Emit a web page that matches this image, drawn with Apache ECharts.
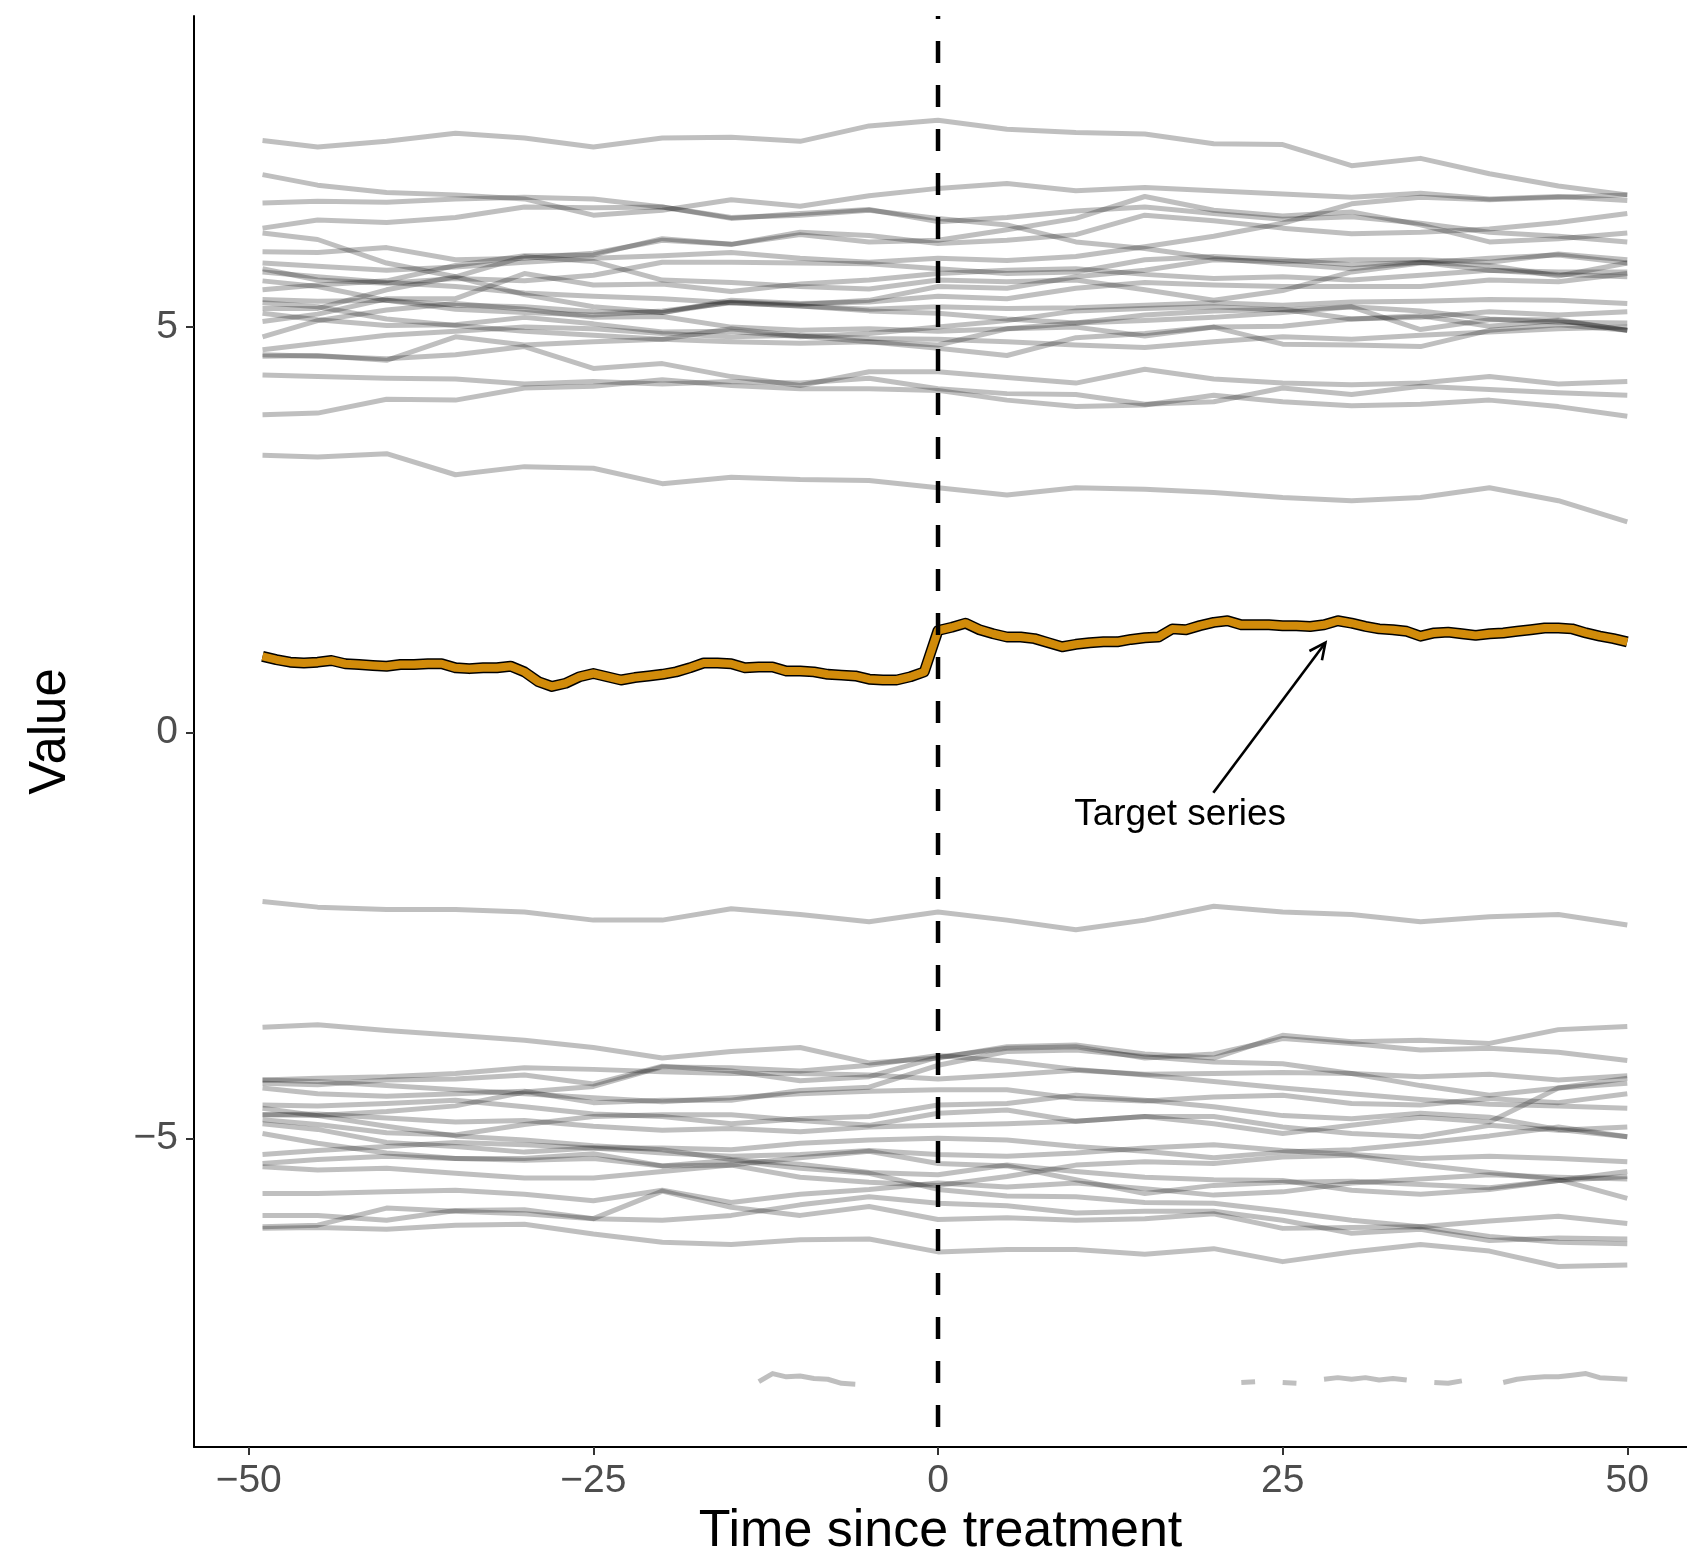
<!DOCTYPE html>
<html><head><meta charset="utf-8">
<script src="https://cdn.jsdelivr.net/npm/echarts@6/dist/echarts.min.js"></script>
<style>html,body{margin:0;padding:0;background:#fff}#c{width:1687px;height:1548px}</style>
</head><body><div id="c"></div>
<script>
// ---- data ----
const timeGrid = [-49,-45,-40,-35,-30,-25,-20,-15,-10,-5,0,5,10,15,20,25,30,35,40,45,50];

const upperLines = [
  [7.30,7.22,7.29,7.39,7.33,7.22,7.33,7.34,7.29,7.48,7.55,7.44,7.40,7.38,7.26,7.25,6.99,7.08,6.89,6.74,6.63],
  [6.88,6.75,6.66,6.63,6.58,6.38,6.44,6.57,6.49,6.62,6.71,6.77,6.68,6.72,6.68,6.64,6.60,6.65,6.58,6.61,6.56],
  [6.53,6.55,6.54,6.58,6.60,6.58,6.48,6.35,6.38,6.44,6.34,6.26,6.05,5.97,5.85,5.78,5.72,5.80,5.76,5.63,5.79],
  [6.22,6.32,6.29,6.35,6.48,6.47,6.48,6.34,6.40,6.45,6.30,6.35,6.43,6.48,6.40,6.33,6.36,6.28,6.17,6.12,6.05],
  [6.16,6.08,5.79,5.62,5.40,5.25,5.18,5.31,5.28,5.33,5.50,5.48,5.62,5.70,5.83,5.81,5.83,5.83,5.80,5.90,5.83],
  [5.93,5.92,5.98,5.83,5.85,5.91,6.07,6.02,6.17,6.13,6.03,6.07,6.14,6.38,6.31,6.22,6.15,6.17,6.21,6.29,6.40],
  [5.79,5.75,5.70,5.74,5.80,5.85,5.88,5.92,5.85,5.80,5.85,5.82,5.87,5.99,6.12,6.28,6.52,6.60,6.57,6.60,6.63],
  [5.72,5.58,5.54,5.60,5.57,5.64,5.80,5.80,5.79,5.78,5.72,5.66,5.68,5.83,5.87,5.83,5.77,5.80,5.70,5.65,5.62],
  [5.46,5.52,5.57,5.76,5.88,5.89,6.09,6.02,6.14,6.05,6.07,6.20,6.34,6.61,6.44,6.37,6.42,6.26,6.05,6.09,6.16],
  [5.68,5.62,5.55,5.50,5.42,5.38,5.35,5.30,5.26,5.22,5.25,5.23,5.24,5.27,5.30,5.27,5.31,5.32,5.34,5.33,5.29],
  [5.23,5.23,5.46,5.62,5.87,5.81,5.58,5.55,5.50,5.47,5.58,5.56,5.58,5.46,5.33,5.45,5.68,5.79,5.85,5.89,5.79],
  [5.57,5.50,5.33,5.22,5.18,5.15,5.20,5.30,5.26,5.20,5.17,5.10,5.05,5.15,5.20,5.22,5.10,5.12,5.19,5.15,5.19],
  [5.34,5.32,5.33,5.27,5.25,5.19,5.18,5.33,5.29,5.31,5.38,5.35,5.48,5.55,5.52,5.50,5.50,5.50,5.58,5.56,5.66],
  [5.07,5.16,5.35,5.35,5.66,5.52,5.53,5.44,5.53,5.58,5.66,5.70,5.72,5.65,5.60,5.62,5.58,5.64,5.70,5.68,5.68],
  [4.88,5.08,5.21,5.29,5.22,5.12,5.13,5.00,4.96,4.98,4.95,4.98,5.05,5.08,5.12,5.18,5.25,5.20,5.10,5.06,5.05],
  [5.17,5.09,5.02,5.03,5.12,5.04,4.94,4.95,4.88,4.92,5.00,5.08,5.20,5.23,5.25,5.21,5.25,4.97,5.09,5.09,4.96],
  [5.30,5.25,5.10,5.02,4.95,4.90,4.85,4.82,4.80,4.82,4.78,4.98,5.00,4.89,5.00,5.01,5.10,5.14,5.01,5.08,4.96],
  [4.64,4.65,4.59,4.88,4.78,4.82,4.85,4.98,4.89,4.82,4.74,4.65,4.87,4.92,5.00,4.79,4.78,4.76,4.96,5.03,4.96],
  [4.66,4.64,4.61,4.66,4.76,4.49,4.55,4.39,4.28,4.45,4.45,4.38,4.31,4.48,4.36,4.31,4.29,4.31,4.39,4.30,4.33],
  [4.72,4.80,4.90,4.95,5.00,4.98,4.92,4.88,4.90,4.86,4.85,4.82,4.78,4.75,4.82,4.88,4.85,4.90,4.94,4.98,5.00],
  [4.41,4.39,4.37,4.36,4.30,4.33,4.30,4.33,4.31,4.37,4.24,4.18,4.17,4.05,4.08,4.25,4.17,4.27,4.23,4.19,4.16],
  [3.92,3.94,4.11,4.10,4.25,4.27,4.35,4.28,4.24,4.24,4.22,4.10,4.02,4.04,4.16,4.08,4.03,4.05,4.10,4.02,3.90],
  [3.42,3.40,3.44,3.18,3.28,3.26,3.07,3.15,3.12,3.11,3.02,2.93,3.02,3.00,2.96,2.90,2.86,2.90,3.02,2.86,2.60]
];

const middleLine = [-2.08,-2.15,-2.18,-2.18,-2.21,-2.31,-2.31,-2.17,-2.24,-2.33,-2.21,-2.31,-2.43,-2.31,-2.14,-2.21,-2.24,-2.33,-2.27,-2.24,-2.37];

const lowerLines = [
  [-3.63,-3.60,-3.67,-3.73,-3.79,-3.88,-4.01,-3.93,-3.88,-4.07,-4.01,-3.87,-3.85,-3.96,-4.01,-3.73,-3.81,-3.79,-3.83,-3.66,-3.62],
  [-4.28,-4.26,-4.24,-4.20,-4.13,-4.15,-4.18,-4.20,-4.20,-4.22,-4.27,-4.22,-4.16,-4.21,-4.20,-4.19,-4.20,-4.24,-4.21,-4.28,-4.23],
  [-4.32,-4.34,-4.28,-4.27,-4.22,-4.33,-4.11,-4.17,-4.29,-4.24,-4.00,-3.89,-3.87,-4.01,-3.96,-3.77,-3.83,-3.91,-3.89,-3.94,-4.04],
  [-4.38,-4.45,-4.48,-4.45,-4.42,-4.56,-4.53,-4.53,-4.41,-4.37,-4.10,-3.93,-3.91,-3.99,-4.06,-4.08,-4.20,-4.35,-4.47,-4.38,-4.32],
  [-4.59,-4.60,-4.57,-4.53,-4.61,-4.70,-4.73,-4.82,-4.76,-4.73,-4.59,-4.57,-4.47,-4.53,-4.61,-4.72,-4.76,-4.69,-4.74,-4.89,-4.98],
  [-4.63,-4.72,-4.85,-4.97,-5.02,-5.09,-5.14,-5.26,-5.32,-5.42,-5.45,-5.33,-5.41,-5.48,-5.51,-5.52,-5.64,-5.69,-5.63,-5.52,-5.47],
  [-4.94,-5.06,-5.18,-5.25,-5.25,-5.19,-5.34,-5.27,-5.37,-5.43,-5.63,-5.71,-5.72,-5.79,-5.80,-5.90,-6.01,-6.09,-6.02,-5.96,-6.05],
  [-4.71,-4.72,-4.67,-4.60,-4.43,-4.36,-4.12,-4.13,-4.17,-4.10,-3.98,-4.05,-4.15,-4.22,-4.30,-4.38,-4.45,-4.52,-4.58,-4.60,-4.63],
  [-4.77,-4.83,-4.93,-4.96,-4.83,-4.73,-4.71,-4.71,-4.78,-4.84,-4.69,-4.65,-4.79,-4.73,-4.73,-4.86,-4.94,-4.98,-4.84,-4.90,-4.86],
  [-4.82,-4.89,-5.05,-5.10,-5.17,-5.12,-5.12,-5.14,-5.06,-5.02,-5.00,-5.02,-5.10,-5.16,-5.24,-5.17,-5.14,-5.06,-4.97,-4.86,-4.98],
  [-5.31,-5.26,-5.22,-5.25,-5.27,-5.25,-5.34,-5.33,-5.48,-5.54,-5.58,-5.47,-5.33,-5.29,-5.31,-5.23,-5.21,-5.33,-5.42,-5.51,-5.74],
  [-5.35,-5.39,-5.37,-5.43,-5.49,-5.49,-5.41,-5.33,-5.24,-5.16,-5.31,-5.34,-5.51,-5.68,-5.58,-5.54,-5.53,-5.57,-5.61,-5.52,-5.41],
  [-5.68,-5.68,-5.66,-5.64,-5.69,-5.77,-5.64,-5.79,-5.69,-5.63,-5.55,-5.60,-5.55,-5.62,-5.70,-5.66,-5.55,-5.50,-5.45,-5.48,-5.50],
  [-5.95,-5.95,-6.01,-5.89,-5.88,-5.99,-5.65,-5.85,-5.95,-5.84,-6.00,-5.98,-6.01,-5.99,-5.93,-6.11,-6.10,-6.09,-6.21,-6.28,-6.30],
  [-6.09,-6.07,-5.86,-5.90,-5.93,-5.99,-6.01,-5.95,-5.82,-5.72,-5.80,-5.83,-5.92,-5.90,-5.90,-6.01,-6.17,-6.12,-6.26,-6.23,-6.24],
  [-6.11,-6.10,-6.12,-6.07,-6.06,-6.18,-6.28,-6.31,-6.25,-6.24,-6.40,-6.37,-6.37,-6.43,-6.36,-6.52,-6.40,-6.31,-6.39,-6.58,-6.56],
  [-4.28,-4.30,-4.35,-4.40,-4.45,-4.50,-4.55,-4.50,-4.45,-4.42,-4.40,-4.40,-4.51,-4.54,-4.49,-4.47,-4.57,-4.59,-4.51,-4.56,-4.45],
  [-4.71,-4.70,-4.75,-4.80,-4.78,-4.85,-4.90,-4.88,-4.92,-4.86,-4.84,-4.82,-4.79,-4.73,-4.82,-4.94,-4.84,-4.74,-4.80,-4.38,-4.26],
  [-5.20,-5.15,-5.10,-5.05,-5.08,-5.12,-5.18,-5.22,-5.20,-5.15,-5.20,-5.22,-5.18,-5.12,-5.08,-5.15,-5.20,-5.25,-5.22,-5.25,-5.29]
];

const gappedTime  = [-13,-12,-11,-10,-9,-8,-7,-6,-5,22,23,24,25,26,27,28,29,30,31,32,33,34,35,36,37,38,39,41,42,43,44,45,46,47,48,49,50];
const gappedValue = [-8.00,-7.90,-7.94,-7.93,-7.96,-7.97,-8.02,-8.03,null,
  -8.01,-8.00,null,-8.01,-8.02,null,-7.97,-7.95,-7.97,-7.95,-7.98,-7.96,-7.98,null,-8.01,-8.02,-7.99,null,
  -8.01,-7.97,-7.95,-7.94,-7.94,-7.92,-7.90,-7.95,-7.96,-7.97];

const targetTime = Array.from({length: 100}, (_, i) => i - 49);
const targetValues = [
  0.94,0.90,0.87,0.86,0.87,0.89,0.85,0.84,0.83,0.82,
  0.84,0.84,0.85,0.85,0.80,0.79,0.80,0.80,0.82,0.75,
  0.63,0.57,0.61,0.69,0.73,0.69,0.65,0.68,0.70,0.72,
  0.75,0.80,0.86,0.86,0.85,0.80,0.81,0.81,0.76,0.76,
  0.75,0.72,0.71,0.70,0.66,0.65,0.65,0.69,0.75,
  1.26,1.30,1.35,1.27,1.22,1.18,1.18,1.16,1.11,1.06,
  1.09,1.11,1.12,1.12,1.15,1.17,1.18,1.28,1.27,1.32,
  1.36,1.38,1.33,1.33,1.33,1.32,1.32,1.31,1.33,1.38,
  1.35,1.31,1.28,1.27,1.25,1.19,1.23,1.24,1.22,1.20,
  1.22,1.23,1.25,1.27,1.29,1.29,1.28,1.23,1.19,1.16,
  1.12
];

const treatmentTime = 0;
const arrowSegment = [19.97, -0.74, 28.1, 1.11];
const annotationText = 'Target series';
const annotationPos = [17.56, -1.01];

const xTicks = [-50, -25, 0, 25, 50];
const yTicks = [-5, 0, 5];
const xRange = [-53.97, 54.33];
const yRange = [-8.805, 8.835];

// ---- chart ----
const FONT = '"Liberation Sans", Arial, Helvetica, sans-serif';
const GREY = 'rgba(0,0,0,0.25)';
const ORANGE = '#D18B0A';
const fmt = v => (v < 0 ? '\u2212' + Math.abs(v) : String(v));

const series = [];
[...upperLines, middleLine, ...lowerLines].forEach(arr => {
  series.push({
    type: 'line', silent: true, symbol: 'none', z: 2,
    data: timeGrid.map((t, i) => [t, arr[i]]),
    lineStyle: { color: GREY, width: 5, join: 'round' }
  });
});
series.push({
  type: 'line', silent: true, symbol: 'none', z: 2, connectNulls: false,
  data: gappedTime.map((t, i) => [t, gappedValue[i] === null ? '-' : gappedValue[i]]),
  lineStyle: { color: GREY, width: 5, join: 'round' }
});
series.push({
  type: 'line', silent: true, symbol: 'none', z: 3,
  data: targetTime.map((t, i) => [t, targetValues[i]]),
  lineStyle: { color: '#000', width: 11, join: 'round' }
});
series.push({
  type: 'line', silent: true, symbol: 'none', z: 4,
  data: targetTime.map((t, i) => [t, targetValues[i]]),
  lineStyle: { color: ORANGE, width: 8, join: 'round' }
});
// dashed vertical line at treatment
series.push({
  type: 'custom', silent: true, z: 6,
  data: [[treatmentTime, 0]],
  renderItem(params, api) {
    const cs = params.coordSys;
    const x = api.coord([api.value(0), 0])[0];
    return {
      type: 'line',
      shape: { x1: x, y1: cs.y, x2: x, y2: cs.y + cs.height },
      style: { stroke: '#000', lineWidth: 4.5, lineDash: [22, 22], lineDashOffset: 19 }
    };
  }
});
// arrow
series.push({
  type: 'custom', silent: true, z: 7,
  data: [arrowSegment],
  renderItem(params, api) {
    const p1 = api.coord([api.value(0), api.value(1)]);
    const p2 = api.coord([api.value(2), api.value(3)]);
    const ang = Math.atan2(p2[1] - p1[1], p2[0] - p1[0]);
    const L = 18, a = Math.PI / 7;
    const h1 = [p2[0] - L * Math.cos(ang - a), p2[1] - L * Math.sin(ang - a)];
    const h2 = [p2[0] - L * Math.cos(ang + a), p2[1] - L * Math.sin(ang + a)];
    return {
      type: 'group', children: [
        { type: 'line', shape: { x1: p1[0], y1: p1[1], x2: p2[0], y2: p2[1] }, style: { stroke: '#000', lineWidth: 2.6 } },
        { type: 'polyline', shape: { points: [h1, p2, h2] }, style: { stroke: '#000', lineWidth: 2.6, fill: null } }
      ]
    };
  }
});
// annotation text
series.push({
  type: 'custom', silent: true, z: 7,
  data: [annotationPos],
  renderItem(params, api) {
    const p = api.coord([api.value(0), api.value(1)]);
    return {
      type: 'text', x: p[0], y: p[1],
      style: { text: annotationText, fill: '#000', fontSize: 37, fontFamily: FONT, align: 'center', verticalAlign: 'middle' }
    };
  }
});

const chart = echarts.init(document.getElementById('c'), null, { renderer: 'canvas' });
chart.setOption({
  animation: false,
  backgroundColor: '#ffffff',
  grid: { left: 194, right: 0, top: 16, bottom: 101, outerBoundsMode: 'none', containLabel: false },
  xAxis: {
    type: 'value', min: xRange[0], max: xRange[1],
    name: 'Time since treatment', nameLocation: 'middle', nameGap: 48,
    nameTextStyle: { fontSize: 52, color: '#000', fontFamily: FONT },
    axisLine: { show: true, onZero: false, lineStyle: { color: '#000', width: 2 } },
    axisTick: { show: true, length: 8, customValues: xTicks, lineStyle: { color: '#333', width: 2 } },
    axisLabel: { customValues: xTicks, fontSize: 39, color: '#4D4D4D', margin: 15, fontFamily: FONT, formatter: fmt },
    splitLine: { show: false }
  },
  yAxis: {
    type: 'value', min: yRange[0], max: yRange[1],
    name: 'Value', nameLocation: 'middle', nameGap: 118,
    nameTextStyle: { fontSize: 51, color: '#000', fontFamily: FONT },
    axisLine: { show: true, onZero: false, lineStyle: { color: '#000', width: 2 } },
    axisTick: { show: true, length: 8, customValues: yTicks, lineStyle: { color: '#333', width: 2 } },
    axisLabel: { customValues: yTicks, fontSize: 39, color: '#4D4D4D', margin: 16, fontFamily: FONT, formatter: fmt },
    splitLine: { show: false }
  },
  series
});
</script>
</body></html>
